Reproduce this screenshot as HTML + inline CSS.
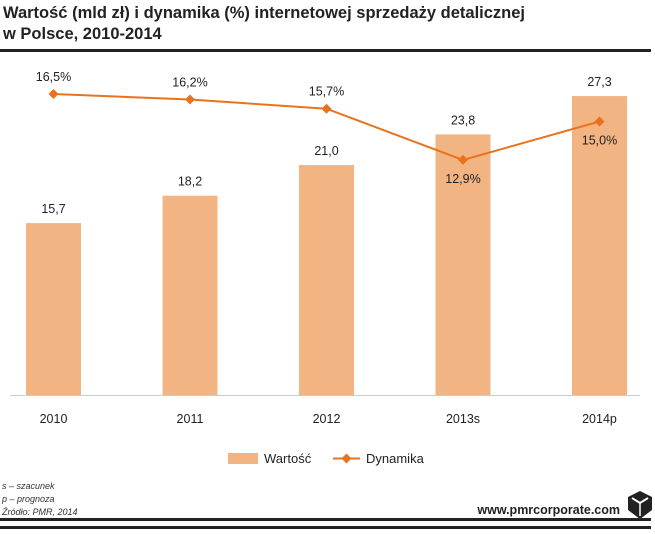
<!DOCTYPE html>
<html><head><meta charset="utf-8"><style>
body{margin:0;width:655px;height:529px;background:#fff;overflow:hidden;font-family:"Liberation Sans",sans-serif}
</style></head><body>
<svg width="655" height="529" xmlns="http://www.w3.org/2000/svg">
<text x="3" y="18" font-size="16.5" font-weight="bold" fill="#222">Wartość (mld zł) i dynamika (%) internetowej sprzedaży detalicznej</text>
<text x="3" y="39" font-size="16.5" font-weight="bold" fill="#222">w Polsce, 2010-2014</text>
<rect x="0" y="49" width="651" height="3" fill="#222"/>
<line x1="10" y1="395.5" x2="640" y2="395.5" stroke="#ccc"/>
<g id="bars"></g><g id="line"></g><g id="labels"></g>
<g>
<rect x="228" y="453" width="30" height="11" fill="#f2b482"/>
<text x="264" y="463" font-size="13" fill="#222">Wartość</text>
<line x1="333" y1="458.5" x2="360" y2="458.5" stroke="#e8731c" stroke-width="2"/>
<path d="M346.5 453.5 L351.5 458.5 L346.5 463.5 L341.5 458.5Z" fill="#e8731c"/>
<text x="366" y="463" font-size="13" fill="#222">Dynamika</text>
</g>
<g font-size="9" font-style="italic" fill="#333">
<text x="2" y="489">s – szacunek</text><text x="2" y="502">p – prognoza</text><text x="2" y="515">Źródło: PMR, 2014</text>
</g>
<text x="620" y="514" font-size="12.5" font-weight="bold" fill="#222" text-anchor="end">www.pmrcorporate.com</text>
<g><path d="M628 497 L640 491 L652 497 L652 510 L640 519 L628 510Z" fill="#222"/><path d="M632 498 L640 503 L648 498" stroke="#fff" stroke-width="2" fill="none"/><line x1="640" y1="503" x2="640" y2="516" stroke="#fff" stroke-width="1.5"/></g>
<rect x="0" y="518" width="651" height="3" fill="#222"/>
<rect x="0" y="526" width="651" height="3" fill="#222"/>
</svg>
<script>
const categories=["2010","2011","2012","2013s","2014p"];
const values=[15.7,18.2,21.0,23.8,27.3];
const dynamics=[16.5,16.2,15.7,12.9,15.0];
const dynLabelBelow=[false,false,false,true,true];
const NS="http://www.w3.org/2000/svg";
const xC=i=>53.5+i*136.5;
const yBar=v=>395-v*10.95;
const yLine=v=>396-v*18.3;
const fmt=v=>v.toFixed(1).replace('.',',');
function mk(t,a,p){const e=document.createElementNS(NS,t);for(const k in a)e.setAttribute(k,a[k]);p.appendChild(e);return e;}
const gb=document.getElementById('bars'),gl=document.getElementById('line'),gt=document.getElementById('labels');
values.forEach((v,i)=>{
 const r=mk('rect',{x:xC(i)-27.5,y:yBar(v),width:55,height:395-yBar(v),fill:'#f2b482'},gb);
 
 
 const t=mk('text',{x:xC(i),y:yBar(v)-10,'font-size':12.5,'text-anchor':'middle',fill:'#222'},gt);t.textContent=fmt(v);
 
 
 const c=mk('text',{x:xC(i),y:423,'font-size':12.5,'text-anchor':'middle',fill:'#222'},gt);c.textContent=categories[i];
 
 
});
const pl=mk('polyline',{points:dynamics.map((v,i)=>xC(i)+','+yLine(v)).join(' '),fill:'none',stroke:'#e8731c','stroke-width':2},gl);


dynamics.forEach((v,i)=>{
 const x=xC(i),y=yLine(v);
 const p=mk('path',{d:`M${x} ${y-5}L${x+5} ${y}L${x} ${y+5}L${x-5} ${y}Z`,fill:'#e8731c'},gl);
 
 
 const t=mk('text',{x:x,y:dynLabelBelow[i]?y+23:y-13,'font-size':12.5,'text-anchor':'middle',fill:'#222'},gt);t.textContent=fmt(v)+'%';
 
 
});
</script>
</body></html>
